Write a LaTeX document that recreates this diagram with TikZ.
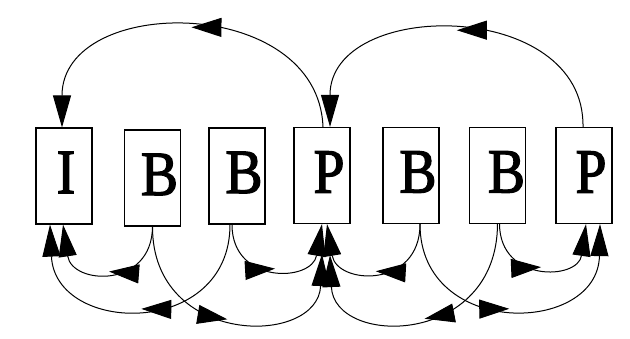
\documentclass[tikz,border=0pt]{standalone}
\usepackage{fontspec}
\setmainfont{Liberation Serif}
\newfontfamily\bigserif[FakeStretch=0.88,FakeBold=2]{Liberation Serif}
\usetikzlibrary{arrows.meta,decorations.markings}
\tikzset{
  frame/.style={draw, line width=1.2pt, minimum width=56pt, minimum height=96pt, inner sep=0pt},
  letter/.style={inner sep=0pt, font=\bigserif\fontsize{63}{63}\selectfont},
  conn/.style={line width=1pt, -{Triangle[length=32pt,width=18pt]},
    postaction={decorate, decoration={markings,
      mark=at position 0.5 with {\arrow{Triangle[length=30pt,width=19pt]}}}}},
}
\begin{document}
\begin{tikzpicture}[x=1pt,y=-1pt]
\useasboundingbox (0,0) rectangle (630,338);
\fill[white] (0,0) rectangle (630,338);
% boxes
\node[frame] (i)  at (64,176)   {};
\node[frame] (b1) at (152.5,178) {};
\node[frame] (b2) at (237,176)  {};
\node[frame] (p1) at (322,175.5) {};
\node[frame] (b3) at (411,175.5) {};
\node[frame] (b4) at (497.5,175.5) {};
\node[frame] (p2) at (584,175.5) {};
% letters
\node[letter] (it)  at ([xshift=2pt,yshift=3.5pt]i.center)  {I};
\node[letter] (b1t) at ([xshift=7pt,yshift=3.5pt]b1.center) {B};
\node[letter] (b2t) at ([xshift=7pt,yshift=3.5pt]b2.center) {B};
\node[letter] (p1t) at ([xshift=7pt,yshift=3.5pt]p1.center) {P};
\node[letter] (b3t) at ([xshift=7pt,yshift=3.5pt]b3.center) {B};
\node[letter] (b4t) at ([xshift=9pt,yshift=3.5pt]b4.center) {B};
\node[letter] (p2t) at ([xshift=7pt,yshift=3.5pt]p2.center) {P};
% free ends below P1
\coordinate (p1l) at ([yshift=-30pt]p1.south);
\coordinate (p1r) at ([xshift=8pt,yshift=-31pt]p1.south);
% top arcs
\draw[conn] ([xshift=1pt]p1.north) .. controls (318,-6) and (62,-6) .. ([xshift=-2pt]i.north);
\draw[conn] ([xshift=-1pt]p2.north) .. controls (585,-2) and (330,-2) .. ([xshift=8pt]p1.north);
% small bottom arcs
\draw[conn] (b1.south) .. controls (152,289) and (72,285) .. ([xshift=-1pt]i.south);
\draw[conn] ([xshift=-5pt]b2.south) .. controls (232,285) and (312,282) .. (p1.south);
\draw[conn] ([xshift=9pt]b3.south) .. controls (420,289) and (337,285) .. ([xshift=5pt]p1.south);
\draw[conn] ([xshift=2pt]b4.south) .. controls (500,283) and (578,280) .. ([xshift=2pt]p2.south);
% big bottom arcs
\draw[conn] ([xshift=-7pt]b2.south) .. controls (230,339) and (55,335) .. ([xshift=-14pt]i.south);
\draw[conn] (b1.south) .. controls (152,347) and (318,347) .. (p1l);
\draw[conn] (b4.south) .. controls (497,347) and (334,347) .. (p1r);
\draw[conn] ([xshift=9pt]b3.south) .. controls (420,339) and (598,335) .. ([xshift=16pt]p2.south);
\end{tikzpicture}
\end{document}
